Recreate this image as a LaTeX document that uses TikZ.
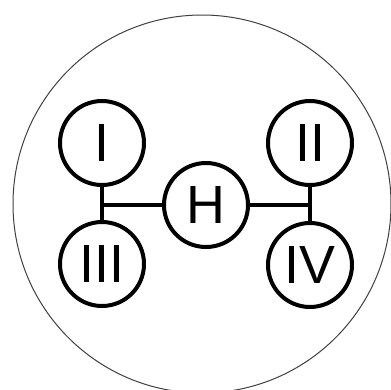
\documentclass[tikz,border=0pt]{standalone}
\usepackage{fontspec}
\setmainfont{Liberation Sans}
\begin{document}
\begin{tikzpicture}[x=1bp,y=-1bp,
  ring/.style={draw=black, line width=4bp, circle, minimum size=84bp, inner sep=0pt,
    font=\fontsize{54}{54}\selectfont},
  link/.style={draw=black, line width=3.5bp}]
\useasboundingbox (0,0) rectangle (391,390);
\begin{scope}
\clip (0,0) rectangle (391,390);
\draw[line width=1bp, black!75] (202,204) circle[radius=189];
\end{scope}
\node[ring] (I) at (102,143) {I};
\node[ring] (III) at (102,264) {III};
\node[ring] (H) at (206,205) {H};
\node[ring] (II) at (310,143) {II};
\node[ring] (IV) at (310,265) {IV};
\coordinate (jL) at (102,205);
\coordinate (jR) at (310,205);
\draw[link] (I) -- (III);
\draw[link] (II) -- (IV);
\draw[link] (jL) -- (H);
\draw[link] (H) -- (jR);
\end{tikzpicture}
\end{document}
